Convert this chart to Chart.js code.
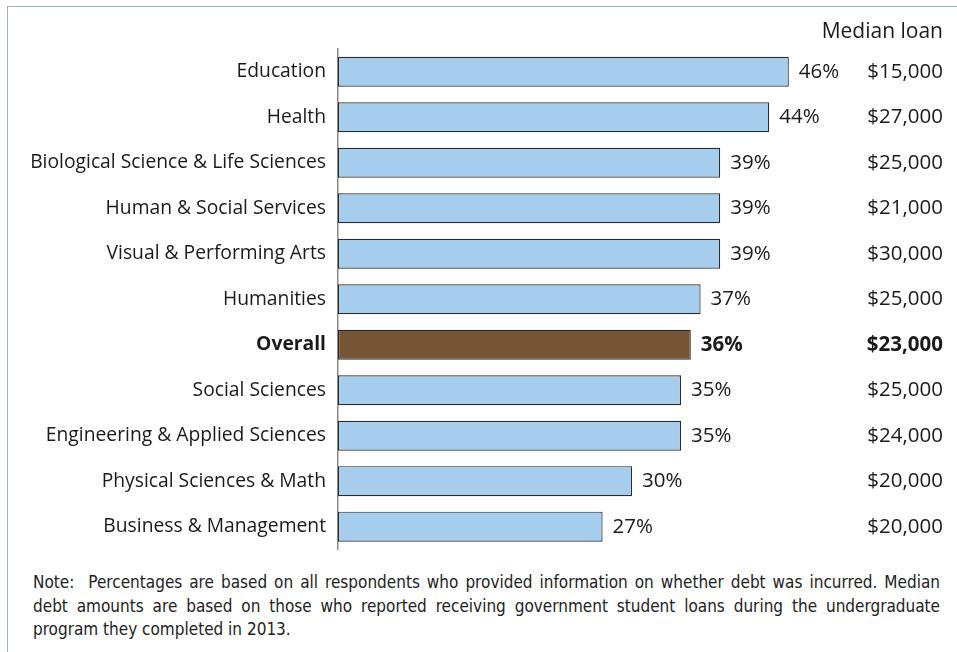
<!DOCTYPE html>
<html>
<head>
<meta charset="utf-8">
<script src="https://cdn.jsdelivr.net/npm/chart.js@4.4.1/dist/chart.umd.min.js"></script>
<style>
  body { margin: 0; background: #fff; font-family: "Open Sans", sans-serif; }
  #frame {
    position: absolute; left: 7px; top: 6px; width: 960px; height: 660px;
    border-left: 1.5px solid #9aaecb; border-top: 1.5px solid #9aaecb;
  }
  #wrap { position: absolute; left: 0; top: 0; width: 957px; height: 565px; }
  #note {
    position: absolute; left: 33px; top: 571px; width: 907px;
    font-family: "Liberation Sans Narrow", "DejaVu Sans Condensed", "Open Sans", sans-serif;
    font-size: 17px; line-height: 23.5px; color: #222;
  }
  #note div { white-space: nowrap; }
  #note .j { text-align: justify; text-align-last: justify; }
</style>
</head>
<body>
<div id="frame"></div>
<div id="wrap"><canvas id="chart-area"></canvas></div>
<div id="note">
  <div class="j">Note:&nbsp; Percentages are based on all respondents who provided information on whether debt was incurred. Median</div>
  <div class="j">debt amounts are based on those who reported receiving government student loans during the undergraduate</div>
  <div>program they completed in 2013.</div>
</div>
<script>
var fields = [
    "Education",
    "Health",
    "Biological Science & Life Sciences",
    "Human & Social Services",
    "Visual & Performing Arts",
    "Humanities",
    "Overall",
    "Social Sciences",
    "Engineering & Applied Sciences",
    "Physical Sciences & Math",
    "Business & Management"
];
var pctWithDebt = [46, 44, 39, 39, 39, 37, 36, 35, 35, 30, 27];
var medianLoan = [15000, 27000, 25000, 21000, 30000, 25000, 23000, 25000, 24000, 20000, 20000];
var overallIndex = fields.indexOf("Overall");

var FONT = "'Open Sans', sans-serif";
var TEXT = "#1a1a1a";

var barColors = fields.map(function (f, i) {
    return i === overallIndex ? "#765436" : "#a7cdec";
});

// percentages next to each bar and the median loan column on the right
var valueLabels = {
    id: "valueLabels",
    afterDatasetsDraw: function (chart) {
        var ctx = chart.ctx;
        var meta = chart.getDatasetMeta(0);
        ctx.save();
        ctx.fillStyle = TEXT;
        ctx.textBaseline = "middle";

        ctx.font = "21px " + FONT;
        ctx.textAlign = "right";
        ctx.fillText("Median loan", 943, 32);

        meta.data.forEach(function (bar, i) {
            var bold = i === overallIndex ? "bold " : "";
            ctx.font = bold + "20.5px " + FONT;
            ctx.textAlign = "left";
            ctx.fillText(pctWithDebt[i] + "%", bar.x + 10, bar.y);
            ctx.textAlign = "right";
            ctx.fillText("$" + medianLoan[i].toLocaleString("en-US"), 943, bar.y);
        });
        ctx.restore();
    }
};

window.chart = new Chart("chart-area", {
    type: "bar",
    data: {
        labels: fields,
        datasets: [{
            data: pctWithDebt,
            backgroundColor: barColors,
            borderColor: "#2b2b2b",
            borderWidth: 1.2,
            borderSkipped: false,
            categoryPercentage: 1,
            barPercentage: 0.66
        }]
    },
    options: {
        indexAxis: "y",
        responsive: true,
        maintainAspectRatio: false,
        animation: false,
        layout: { padding: { top: 49, bottom: 12, right: 31, left: 0 } },
        plugins: {
            legend: { display: false },
            tooltip: { enabled: false }
        },
        scales: {
            x: {
                display: false,
                min: 0,
                max: 60
            },
            y: {
                afterFit: function (scale) { scale.width = 338; },
                grid: { display: false },
                border: { display: true, color: "#8a8a8a", width: 1.5 },
                ticks: {
                    padding: 4,
                    color: TEXT,
                    font: function (c) {
                        return {
                            family: FONT,
                            size: 19.3,
                            weight: c.index === overallIndex ? "bold" : "normal"
                        };
                    }
                }
            }
        }
    },
    plugins: [valueLabels]
});
</script>
</body>
</html>
